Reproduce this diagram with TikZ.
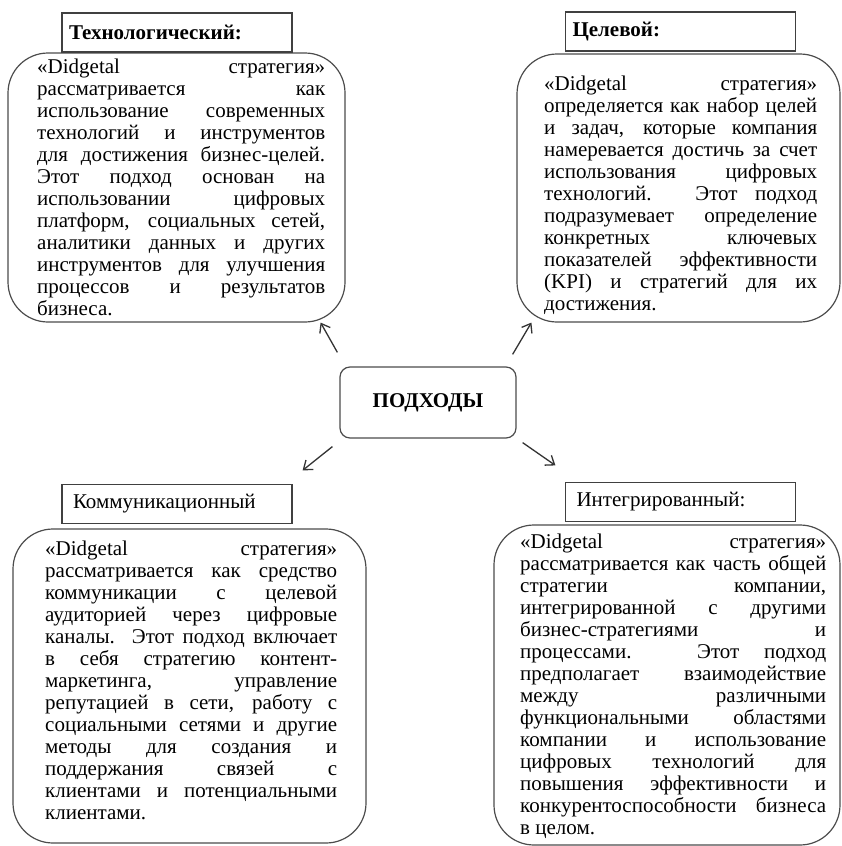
\documentclass[tikz,border=0pt]{standalone}
\usepackage{fontspec}
\setmainfont{LiberationSerif}[Extension=.ttf, UprightFont=*-Regular, BoldFont=*-Bold, ItalicFont=*-Italic, BoldItalicFont=*-BoldItalic]
\usetikzlibrary{calc, arrows.meta}
\newcommand\loosepar{\tolerance=10000 \hbadness=10000 \relax}

\begin{document}
\begin{tikzpicture}[
  x=1pt, y=-1pt,
  cloud/.style={draw=black!70, line width=1.2pt, rounded corners=40pt},
  head/.style={draw=black!75, line width=1.1pt, minimum width=230pt, minimum height=39pt, text width=216pt, align=left, inner sep=0pt, font=\fontsize{21}{22}\selectfont},
  body/.style={anchor=base west, align=justify, inner sep=0pt, font=\fontsize{21}{22}\selectfont\loosepar},
  hub/.style={draw=black!70, line width=1.2pt, rounded corners=10pt, minimum width=176pt, minimum height=71pt, font=\bfseries\fontsize{21}{22}\selectfont},
  link/.style={draw=black!80, line width=1.3pt, -{Straight Barb[length=8pt,width=12pt]}}]
  \useasboundingbox (0,0) rectangle (841,846);

  \node[cloud, minimum width=337pt, minimum height=269pt] (tech) at (176.5,187.5) {};
  \node[cloud, minimum width=323pt, minimum height=268pt] (goal) at (678.5,188) {};
  \node[cloud, minimum width=353pt, minimum height=314pt] (comm) at (189.5,686) {};
  \node[cloud, minimum width=346pt, minimum height=320pt] (integ) at (667,685) {};

  \node[head, font=\bfseries\fontsize{21}{22}\selectfont] (techhead) at (177,32.5) {Технологический:};
  \node[head, font=\bfseries\fontsize{21}{22}\selectfont] (goalhead) at (680.5,31.5) {Целевой:};
  \node[head, text width=208pt] (commhead) at (177,504) {Коммуникационный};
  \node[head, text width=208pt] (integhead) at (680.5,502) {Интегрированный:};

  \node[body, text width=288pt] (techtext) at (37,73) {«Didgetal стратегия»\linebreak
    рассматривается как\linebreak
    использование современных\linebreak
    технологий и инструментов\linebreak
    для достижения бизнес-целей.\linebreak
    Этот подход основан на\linebreak
    использовании цифровых\linebreak
    платформ, социальных сетей,\linebreak
    аналитики данных и других\linebreak
    инструментов для улучшения\linebreak
    процессов и результатов\linebreak
    бизнеса.};
  \node[body, text width=273pt] (goaltext) at (544,90) {«Didgetal стратегия»\linebreak
    определяется как набор целей\linebreak
    и задач, которые компания\linebreak
    намеревается достичь за счет\linebreak
    использования цифровых\linebreak
    технологий. Этот подход\linebreak
    подразумевает определение\linebreak
    конкретных ключевых\linebreak
    показателей эффективности\linebreak
    (KPI) и стратегий для их\linebreak
    достижения.};
  \node[body, text width=292pt] (commtext) at (45,555) {«Didgetal стратегия»\linebreak
    рассматривается как средство\linebreak
    коммуникации с целевой\linebreak
    аудиторией через цифровые\linebreak
    каналы. Этот подход включает\linebreak
    в себя стратегию контент-\linebreak
    маркетинга, управление\linebreak
    репутацией в сети, работу с\linebreak
    социальными сетями и другие\linebreak
    методы для создания и\linebreak
    поддержания связей с\linebreak
    клиентами и потенциальными\linebreak
    клиентами.};
  \node[body, text width=306pt] (integtext) at (520,548) {«Didgetal стратегия»\linebreak
    рассматривается как часть общей\linebreak
    стратегии компании,\linebreak
    интегрированной с другими\linebreak
    бизнес-стратегиями и\linebreak
    процессами. Этот подход\linebreak
    предполагает взаимодействие\linebreak
    между различными\linebreak
    функциональными областями\linebreak
    компании и использование\linebreak
    цифровых технологий для\linebreak
    повышения эффективности и\linebreak
    конкурентоспособности бизнеса\linebreak
    в целом.};

  \node[hub] (hub) at (428,402.5) {ПОДХОДЫ};

  % стрелки от центра к подходам
  \draw[link] ($(hub.north west)+(-2,-14)$) -- ($(tech.south east)+(-25,0)$);
  \draw[link] ($(hub.north east)+(-4,-12)$) -- ($(goal.south west)+(15,0)$);
  \draw[link] ($(hub.south west)+(-7,8)$) -- ($(comm.north east)+(-64,-58)$);
  \draw[link] ($(hub.south east)+(6,4)$) -- ($(integ.north west)+(62,-59)$);
\end{tikzpicture}
\end{document}
